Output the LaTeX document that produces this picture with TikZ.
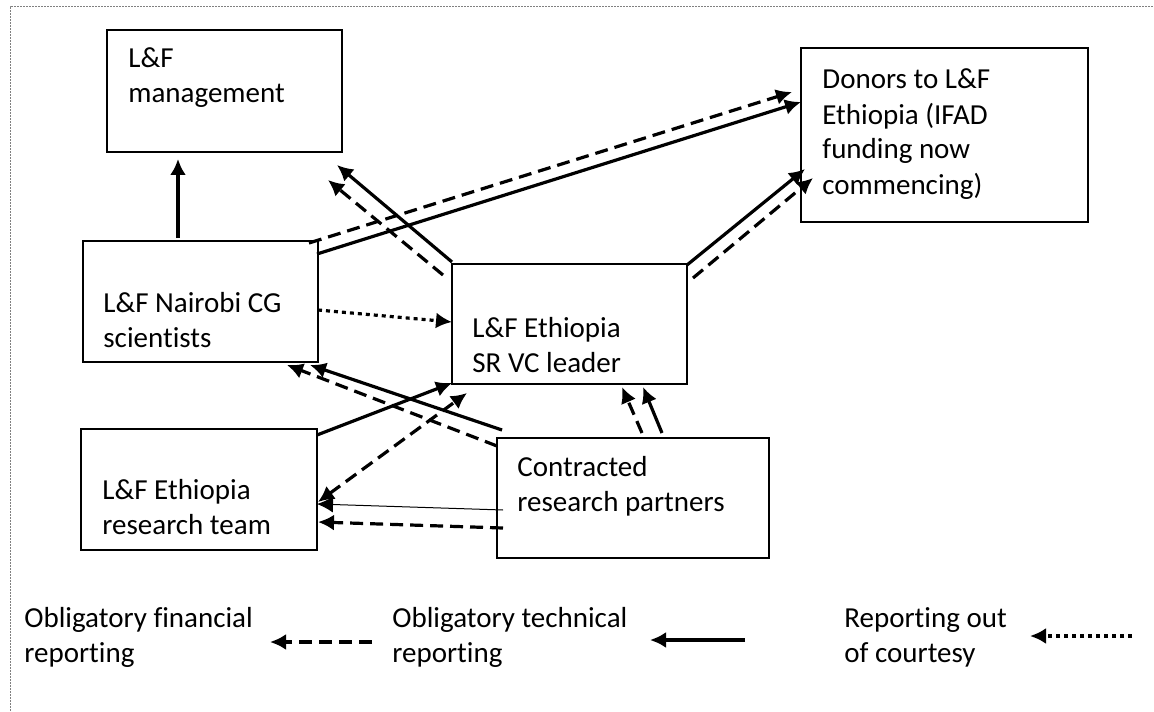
\documentclass[tikz,border=0pt]{standalone}
\usepackage{fontspec}
\setmainfont[RawFeature={-liga;-clig;-calt;-dlig}]{Carlito}
\usetikzlibrary{arrows.meta,calc}
\tikzset{
  box/.style={draw, line width=0.75pt, rectangle, inner sep=0pt, outer sep=0pt},
  txt/.style={anchor=base west, align=left, inner sep=0pt, font=\fontsize{14.5}{17.5}\selectfont},
  tip/.style={-{Latex[length=8pt,width=8pt]}},
  tech/.style={tip, line width=1.6pt},
  fin/.style={tip, line width=1.6pt, dash pattern=on 6.5pt off 3.5pt},
  court/.style={tip, line width=1.6pt, dash pattern=on 2pt off 2pt},
  thinline/.style={tip, line width=0.5pt},
  frame/.style={draw=gray, line width=0.5pt, dash pattern=on 1pt off 0.5pt}
}
\begin{document}
\begin{tikzpicture}[x=0.5pt,y=-0.5pt]
\useasboundingbox (0,0) rectangle (1154,711);
\draw[frame] (10,711) -- (10,7) -- (1154,7);

% boxes
\node[box, minimum width=117.5pt, minimum height=61pt]   (mgmt)    at (224.5,91)  {};
\node[box, minimum width=117.5pt, minimum height=60.5pt] (nairobi) at (200.5,301.5) {};
\node[box, minimum width=117.5pt, minimum height=60pt]   (sr)      at (569.5,324) {};
\node[box, minimum width=143.5pt, minimum height=87pt]   (donors)  at (944.5,135) {};
\node[box, minimum width=118pt,   minimum height=60.5pt] (team)    at (199,489.5) {};
\node[box, minimum width=136pt,   minimum height=60pt]   (contr)   at (633,498)   {};

% texts (anchored at the baseline of their last line)
\node[txt] (tmgmt)    at (128,103) {L\&F\\management};
\node[txt] (tnairobi) at (103,347) {L\&F Nairobi CG\\scientists};
\node[txt] (tsr)      at (472,372) {L\&F Ethiopia\\SR VC leader};
\node[txt] (tdonors)  at (822,194) {Donors to L\&F\\Ethiopia (IFAD\\funding now\\commencing)};
\node[txt] (tteam)    at (102,534) {L\&F Ethiopia\\research team};
\node[txt] (tcontr)   at (517,511) {Contracted\\research partners};

% connectors
\draw[tech] ($(nairobi.north)+(-22.5,-3)$) -- ($(mgmt.south)+(-46.5,7)$);
\draw[tech] ($(nairobi.north east)+(-1,13)$) -- ($(donors.west)+(0,-33)$);
\draw[fin]  ($(nairobi.north east)+(-9,2)$) -- ($(donors.west)+(-9,-43)$);
\draw[tech] ($(sr.north west)+(0,-2)$) -- ($(mgmt.south east)+(-5,13)$);
\draw[fin]  ($(sr.north west)+(-9,11)$) -- ($(mgmt.south east)+(-14,28)$);
\draw[tech] ($(sr.north east)+(0,1)$) -- ($(donors.south west)+(4,-53)$);
\draw[fin]  ($(sr.north east)+(6,14)$) -- ($(donors.south west)+(12,-44)$);
\draw[court] ($(nairobi.east)+(0,8.5)$) -- ($(sr.west)+(0,-2)$);
\draw[tech] ($(contr.north west)+(5,-8)$) -- ($(nairobi.south east)+(-8,3)$);
\draw[fin]  ($(contr.north west)+(0,8)$) -- ($(nairobi.south east)+(-31,3)$);
\draw[tech] ($(team.north east)+(0,6)$) -- ($(sr.south west)+(0,-1)$);
\draw[fin, {Latex[length=8pt,width=8pt]}-{Latex[length=8pt,width=8pt]}] ($(team.east)+(1,12.5)$) -- ($(sr.south west)+(15,9)$);
\draw[thinline] ($(contr.west)+(6,12)$) -- ($(team.east)+(0,14.5)$);
\draw[fin]  ($(contr.west)+(6,30)$) -- ($(team.east)+(1,32.5)$);
\draw[fin]  ($(contr.north)+(9,-5)$) -- ($(sr.south)+(52.5,3)$);
\draw[tech] ($(contr.north)+(29,-5)$) -- ($(sr.south)+(73.5,3)$);

% legend
\node[txt] (lfin)   at (24,662)  {Obligatory financial\\reporting};
\node[txt] (ltech)  at (392,662) {Obligatory technical\\reporting};
\node[txt] (lcourt) at (844,662) {Reporting out\\of courtesy};
\coordinate (lfinA) at (372,642);  \coordinate (lfinB) at (270,642);
\coordinate (ltechA) at (745,640); \coordinate (ltechB) at (650,640);
\coordinate (lcourtA) at (1132,636); \coordinate (lcourtB) at (1030,636);
\draw[fin]   (lfinA) -- (lfinB);
\draw[tech]  (ltechA) -- (ltechB);
\draw[court] (lcourtA) -- (lcourtB);
\end{tikzpicture}
\end{document}
